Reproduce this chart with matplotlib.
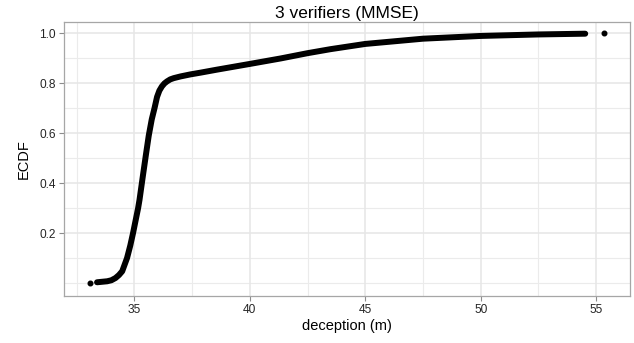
import matplotlib
matplotlib.use("Agg")
import matplotlib.pyplot as plt

plt.rcParams['font.family'] = ['Liberation Sans', 'DejaVu Sans']

# ECDF: deception (m) vs cumulative fraction
deception = [33.38, 33.82, 34.00, 34.18, 34.33, 34.47, 34.68, 34.82, 34.94,
             35.16, 35.22, 35.36, 35.50, 35.62, 35.75, 35.87, 35.98, 36.08,
             36.19, 36.30, 36.41, 36.55, 36.70, 37.00, 37.42, 37.86, 38.57,
             40.0, 41.34, 42.5, 43.49, 45.0, 47.5, 50.0, 52.5, 54.53]
ecdf = [0.003, 0.007, 0.011, 0.02, 0.032, 0.047, 0.10, 0.15, 0.20,
        0.30, 0.333, 0.425, 0.515, 0.59, 0.655, 0.70, 0.745, 0.770,
        0.787, 0.799, 0.807, 0.815, 0.82, 0.827, 0.835, 0.842, 0.854,
        0.877, 0.899, 0.92, 0.936, 0.957, 0.978, 0.989, 0.995, 0.998]
# isolated extreme points
outX = [33.06, 55.36]
outY = [0.0, 1.0]

xticks = [35, 40, 45, 50, 55]
yticks = [0.2, 0.4, 0.6, 0.8, 1.0]
xminor = [32.5, 37.5, 42.5, 47.5, 52.5]
yminor = [0.0, 0.1, 0.3, 0.5, 0.7, 0.9]

fig = plt.figure(figsize=(6.34, 3.43), dpi=100)
ax = fig.add_axes([0.101, 0.137, 0.8927, 0.799])

for v in xminor:
    ax.axvline(v, color='#EBEBEB', lw=0.8, zorder=0)
for v in yminor:
    ax.axhline(v, color='#EBEBEB', lw=0.8, zorder=0)
for v in xticks:
    ax.axvline(v, color='#E6E6E6', lw=1.1, zorder=0)
for v in yticks:
    ax.axhline(v, color='#E6E6E6', lw=1.1, zorder=0)

ax.plot(deception, ecdf, color='black', lw=4.3, solid_capstyle='round',
        solid_joinstyle='round', zorder=3)
ax.plot(outX, outY, linestyle='None', marker='o', markersize=3.3,
        color='black', zorder=3)

ax.set_xlim(31.95, 56.47)
ax.set_ylim(-0.052, 1.045)
ax.set_xticks(xticks)
ax.set_yticks(yticks)
ax.set_yticklabels([f"{v:.1f}" for v in yticks])
ax.tick_params(axis='both', length=3.5, width=0.8, color='#8C8C8C',
               labelsize=8.6, labelcolor='#262626', pad=2.5)

for s in ax.spines.values():
    s.set_color('#A6A6A6')
    s.set_linewidth(0.9)

ax.set_xlabel("deception (m)", fontsize=10.5, labelpad=2)
ax.set_ylabel("ECDF", fontsize=10.5, labelpad=6)
ax.set_title("3 verifiers (MMSE)", fontsize=12.5, pad=3)

plt.savefig("out.png", dpi=100)
